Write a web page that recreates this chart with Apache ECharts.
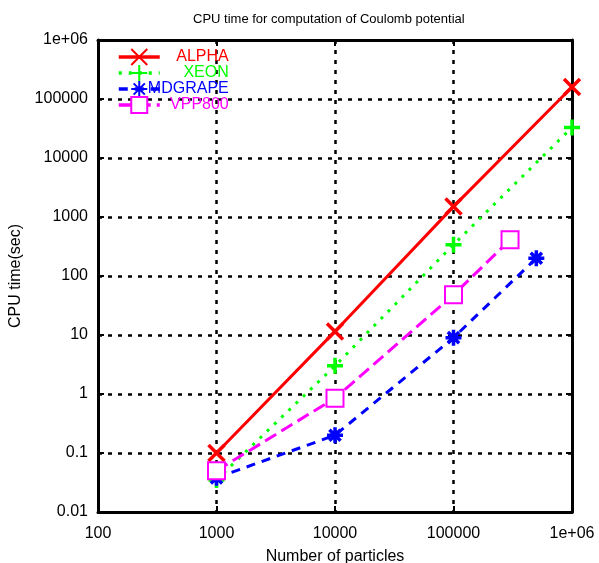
<!DOCTYPE html>
<html lang="en">

<head>
    <meta charset="UTF-8">
    <title>CPU time</title>
    <style>
        html, body { margin: 0; padding: 0; background: #fff; }
    </style>
</head>

<body>
    <div id="main" style="width: 599px;height:563px;"></div>
    <script src="https://cdn.jsdelivr.net/npm/echarts@6/dist/echarts.min.js"></script>
    <script>
    // data
    var seriesNames = ['ALPHA', 'XEON', 'MDGRAPE', 'VPP800'];
    var alphaN = [1000, 10000, 100000, 1000000];
    var alphaT = [0.1, 11.5, 1500, 160000];
    var xeonN = [1000, 10000, 100000, 1000000];
    var xeonT = [0.035, 3, 340, 33000];
    var mdgrapeN = [1000, 10000, 100000, 500000];
    var mdgrapeT = [0.038, 0.2, 9, 200];
    var vppN = [1000, 10000, 100000, 300000];
    var vppT = [0.05, 0.85, 48, 410];
    var xTickLabels = ['100', '1000', '10000', '100000', '1e+06'];
    var yTickLabels = ['0.01', '0.1', '1', '10', '100', '1000', '10000', '100000', '1e+06'];

    function pairs(xs, ys) {
        return xs.map(function(x, i) { return [x, ys[i]]; });
    }

    var font = 'Liberation Sans, Arial, sans-serif';
    var colors = { ALPHA: '#ff0000', XEON: '#00ff00', MDGRAPE: '#0000ff', VPP800: '#ff00ff' };
    var richKeys = { ALPHA: 'a', XEON: 'b', MDGRAPE: 'c', VPP800: 'd' };

    function richStyle(c) {
        return { color: c, width: 64, align: 'right', fontSize: 16, lineHeight: 16, fontFamily: font };
    }

    var myChart = echarts.init(document.getElementById('main'));

    var dotted = { color: '#000', width: 2.5, type: [4, 6] };

    var option = {
        animation: false,
        title: {
            text: 'CPU time for computation of Coulomb potential',
            left: 188,
            top: 8,
            textStyle: { fontSize: 13, fontWeight: 'normal', color: '#000', fontFamily: font }
        },
        grid: {
            left: 98,
            right: 27,
            top: 40,
            bottom: 51,
            outerBoundsMode: 'none'
        },
        legend: {
            data: seriesNames,
            orient: 'vertical',
            left: 112,
            top: 43,
            itemWidth: 41,
            itemHeight: 20,
            itemGap: -2,
            lineStyle: { width: 3.5 },
            formatter: function(name) {
                return '{' + richKeys[name] + '|' + name + '}';
            },
            textStyle: {
                fontSize: 16,
                fontFamily: font,
                rich: {
                    a: richStyle(colors.ALPHA),
                    b: richStyle(colors.XEON),
                    c: richStyle(colors.MDGRAPE),
                    d: richStyle(colors.VPP800)
                }
            }
        },
        xAxis: [{
            type: 'log',
            logBase: 10,
            min: 100,
            max: 1000000,
            splitNumber: 4,
            name: 'Number of particles',
            nameLocation: 'middle',
            nameGap: 37,
            nameTextStyle: { fontSize: 16, color: '#000', fontFamily: font },
            axisLine: { lineStyle: { color: '#000', width: 3 } },
            axisTick: { inside: true, length: 6, lineStyle: { color: '#000', width: 2 } },
            axisLabel: {
                margin: 14,
                fontSize: 16,
                color: '#000',
                fontFamily: font,
                formatter: function(v) {
                    return xTickLabels[Math.round(Math.log10(v)) - 2];
                }
            },
            splitLine: { show: true, lineStyle: dotted }
        }, {
            type: 'log',
            logBase: 10,
            min: 100,
            max: 1000000,
            splitNumber: 4,
            position: 'top',
            axisLine: { lineStyle: { color: '#000', width: 3 } },
            axisTick: { inside: true, length: 6, lineStyle: { color: '#000', width: 2 } },
            axisLabel: { show: false },
            splitLine: { show: false }
        }],
        yAxis: [{
            type: 'log',
            logBase: 10,
            min: 0.01,
            max: 1000000,
            splitNumber: 8,
            name: 'CPU time(sec)',
            nameLocation: 'middle',
            nameGap: 62,
            nameRotate: 90,
            nameTextStyle: { fontSize: 16, color: '#000', fontFamily: font },
            axisLine: { show: true, lineStyle: { color: '#000', width: 3 } },
            axisTick: { show: true, inside: true, length: 6, lineStyle: { color: '#000', width: 2 } },
            axisLabel: {
                margin: 10,
                padding: [6, 0, 0, 0],
                fontSize: 16,
                color: '#000',
                fontFamily: font,
                formatter: function(v) {
                    return yTickLabels[Math.round(Math.log10(v)) + 2];
                }
            },
            splitLine: { show: true, lineStyle: dotted }
        }, {
            type: 'log',
            logBase: 10,
            min: 0.01,
            max: 1000000,
            splitNumber: 8,
            position: 'right',
            axisLine: { show: true, lineStyle: { color: '#000', width: 3 } },
            axisTick: { show: true, inside: true, length: 6, lineStyle: { color: '#000', width: 2 } },
            axisLabel: { show: false },
            splitLine: { show: false }
        }],
        series: [{
                name: 'ALPHA',
                type: 'line',
                data: pairs(alphaN, alphaT),
                symbol: 'path://M0,0L10,10M10,0L0,10',
                symbolSize: 16,
                lineStyle: { color: colors.ALPHA, width: 3, type: 'solid' },
                itemStyle: { color: colors.ALPHA, borderColor: colors.ALPHA, borderWidth: 3.5 }
            },
            {
                name: 'XEON',
                type: 'line',
                data: pairs(xeonN, xeonT),
                symbol: 'path://M5,0L5,10M0,5L10,5',
                symbolSize: 16,
                lineStyle: { color: colors.XEON, width: 3, type: [3, 7] },
                itemStyle: { color: colors.XEON, borderColor: colors.XEON, borderWidth: 3.5 }
            },
            {
                name: 'MDGRAPE',
                type: 'line',
                data: pairs(mdgrapeN, mdgrapeT),
                symbol: 'path://M5,0L5,10M0,5L10,5M1.5,1.5L8.5,8.5M8.5,1.5L1.5,8.5',
                symbolSize: 16,
                lineStyle: { color: colors.MDGRAPE, width: 3, type: [9, 7] },
                itemStyle: { color: colors.MDGRAPE, borderColor: colors.MDGRAPE, borderWidth: 3.5 }
            },
            {
                name: 'VPP800',
                type: 'line',
                data: pairs(vppN, vppT),
                symbol: 'emptyRect',
                symbolSize: 17,
                lineStyle: { color: colors.VPP800, width: 3, type: [13, 6] },
                itemStyle: { color: colors.VPP800, borderColor: colors.VPP800, borderWidth: 3.5 }
            }
        ]
    };

    myChart.setOption(option);
    </script>
</body>

</html>
